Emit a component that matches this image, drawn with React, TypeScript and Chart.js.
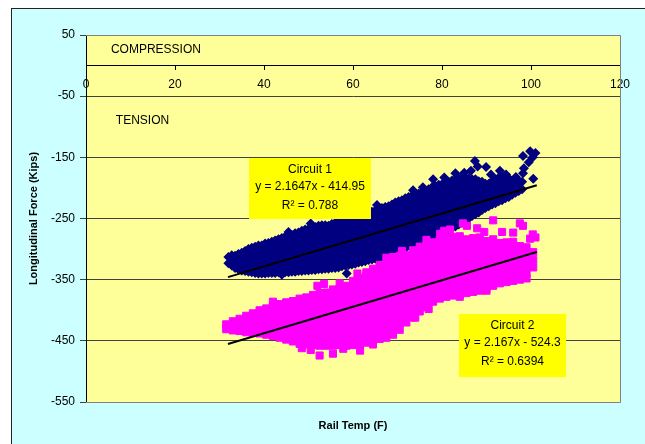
import React, { useEffect, useRef } from "react";
import { Chart, registerables } from "chart.js";

Chart.register(...registerables);

// ---------- data ----------
const xTicks = [0, 20, 40, 60, 80, 100, 120];
const yTicks = [-550, -450, -350, -250, -150, -50, 50];

// Circuit 1 readings grouped by rail temperature column: [temp, forces[]]
const circuit1Columns: [number, number[]][] = [
  [32, [-323, -313]],
  [32.75, [-327, -318, -310]],
  [33.5, [-331, -321, -311]],
  [34.25, [-333, -326, -316, -308]],
  [35, [-335, -326, -316, -306]],
  [35.75, [-336, -330, -321, -311, -303]],
  [36.5, [-337, -329, -319, -309, -300]],
  [37.25, [-338, -332, -324, -314, -304, -298]],
  [38, [-339, -331, -321, -311, -302, -296]],
  [38.75, [-340, -334, -326, -316, -306, -297, -294]],
  [39.5, [-340, -333, -324, -314, -304, -294]],
  [40.25, [-340, -335, -328, -319, -309, -299, -291]],
  [41, [-339, -330, -320, -310, -300, -290]],
  [41.75, [-339, -334, -325, -315, -305, -295, -288]],
  [42.5, [-339, -332, -322, -312, -302, -293, -286]],
  [43.25, [-338, -327, -317, -307, -297, -288, -284]],
  [44, [-338, -329, -319, -309, -299, -290, -282]],
  [44.75, [-338, -334, -324, -314, -304, -294, -285, -280]],
  [45.5, [-338, -330, -320, -310, -300, -290, -280]],
  [46.25, [-337, -325, -315, -305, -295, -285, -277]],
  [47, [-337, -327, -317, -307, -297, -287, -278, -274]],
  [47.75, [-336, -332, -322, -312, -302, -292, -282, -273]],
  [48.5, [-336, -329, -319, -309, -299, -289, -279, -270]],
  [49.25, [-335, -324, -314, -304, -294, -284, -274, -268]],
  [50, [-335, -326, -316, -306, -296, -286, -276, -267]],
  [50.75, [-334, -330, -321, -311, -301, -291, -281, -271, -265]],
  [51.5, [-334, -324, -314, -304, -294, -284, -274, -264]],
  [52.25, [-333, -329, -319, -309, -299, -289, -279, -269, -262]],
  [53, [-333, -325, -315, -305, -295, -285, -275, -266, -261]],
  [53.75, [-332, -320, -310, -300, -290, -280, -270, -261]],
  [54.5, [-332, -322, -312, -302, -292, -282, -272, -262]],
  [55.25, [-331, -327, -317, -307, -297, -287, -277, -267, -259]],
  [56, [-331, -324, -314, -304, -294, -284, -274, -265, -257]],
  [56.75, [-330, -319, -309, -299, -289, -279, -269, -260, -256]],
  [57.5, [-328, -320, -310, -300, -290, -280, -270, -260, -255]],
  [58.25, [-327, -315, -305, -295, -285, -275, -265, -256, -253]],
  [59, [-326, -317, -307, -297, -287, -277, -267, -258, -252]],
  [59.75, [-325, -321, -312, -302, -292, -282, -272, -262, -253, -250]],
  [60.5, [-324, -315, -305, -295, -285, -275, -265, -255, -249]],
  [61.25, [-322, -310, -300, -290, -280, -270, -260, -250, -247]],
  [62, [-321, -311, -301, -291, -281, -271, -261, -252, -245]],
  [62.75, [-320, -316, -306, -296, -286, -276, -266, -256, -247, -243]],
  [63.5, [-318, -309, -299, -289, -279, -269, -259, -249, -241]],
  [64.25, [-317, -304, -294, -284, -274, -264, -254, -244, -239]],
  [65, [-316, -306, -296, -286, -276, -266, -256, -246, -237]],
  [65.75, [-314, -311, -301, -291, -281, -271, -261, -251, -241, -235]],
  [66.5, [-313, -303, -293, -283, -273, -263, -253, -243, -233]],
  [67.25, [-310, -298, -288, -278, -268, -258, -248, -238, -231]],
  [68, [-308, -300, -290, -280, -270, -260, -250, -240, -230]],
  [68.75, [-305, -295, -285, -275, -265, -255, -245, -235, -227]],
  [69.5, [-303, -294, -284, -274, -264, -254, -244, -234, -224]],
  [70.25, [-300, -289, -279, -269, -259, -249, -239, -229, -222]],
  [71, [-298, -290, -280, -270, -260, -250, -240, -230, -220]],
  [71.75, [-296, -285, -275, -265, -255, -245, -235, -225, -217]],
  [72.5, [-294, -285, -275, -265, -255, -245, -235, -225, -215]],
  [73.25, [-292, -280, -270, -260, -250, -240, -230, -220, -213]],
  [74, [-290, -281, -271, -261, -251, -241, -231, -221, -211]],
  [74.75, [-288, -276, -266, -256, -246, -236, -226, -216, -209]],
  [75.5, [-286, -277, -267, -257, -247, -237, -227, -217, -207]],
  [76.25, [-283, -272, -262, -252, -242, -232, -222, -212, -204]],
  [77, [-281, -272, -262, -252, -242, -232, -222, -212, -202]],
  [77.75, [-278, -267, -257, -247, -237, -227, -217, -207, -199]],
  [78.5, [-276, -267, -257, -247, -237, -227, -217, -207, -197]],
  [79.25, [-274, -262, -252, -242, -232, -222, -212, -202, -195]],
  [80, [-272, -263, -253, -243, -233, -223, -213, -203, -194]],
  [80.75, [-270, -258, -248, -238, -228, -218, -208, -198, -192]],
  [81.5, [-268, -259, -249, -239, -229, -219, -209, -199, -190]],
  [82.25, [-265, -254, -244, -234, -224, -214, -204, -194, -188]],
  [83, [-263, -254, -244, -234, -224, -214, -204, -194, -186]],
  [83.75, [-260, -249, -239, -229, -219, -209, -199, -189, -184]],
  [84.5, [-257, -248, -238, -228, -218, -208, -198, -189, -182]],
  [85.25, [-253, -243, -233, -223, -213, -203, -193, -184]],
  [86, [-250, -241, -231, -221, -211, -201, -191, -184]],
  [86.75, [-246, -236, -226, -216, -206, -196, -186]],
  [87.5, [-243, -234, -224, -214, -204, -194, -186]],
  [88.25, [-240, -229, -219, -209, -199, -189]],
  [89, [-236, -228, -218, -208, -198, -190]],
  [89.75, [-233, -223, -213, -203, -193]],
  [90.5, [-230, -222, -212, -202, -193]],
  [91.25, [-227, -217, -207, -197, -189]],
  [92, [-225, -215, -205, -196, -186]],
  [92.75, [-222, -210, -200, -191, -183]],
  [93.5, [-220, -211, -201, -191, -182]],
  [94.25, [-217, -206, -196, -186, -180]],
  [95, [-215, -205, -195, -184]],
  [95.75, [-211, -200, -190]],
  [96.5, [-208, -198, -186]],
  [97.25, [-205, -193]],
  [98, [-202, -190]],
];

// Circuit 1 scattered readings: [temp, force]
const circuit1Scatter: [number, number][] = [
  [87.4, -156], [89.9, -166], [86.5, -172], [91, -178], [94.4, -178], [96.6, -182],
  [97.5, -190], [95.3, -200], [98.2, -176], [98.4, -168], [98.2, -148], [99.8, -140],
  [101, -143], [100.4, -150], [99.5, -158], [100.5, -185], [93, -172], [83, -176],
  [80.5, -183], [78, -186], [75.7, -199], [73.5, -204], [65.4, -228], [62, -238],
  [59, -245], [50.5, -258], [45.5, -272], [72, -297], [74.4, -291], [76, -287],
  [58.6, -340], [44, -342], [88, -165], [85, -175],
];

// Circuit 2 readings grouped by rail temperature column: [temp, forces[]]
const circuit2Columns: [number, number[]][] = [
  [31.5, [-431, -423]],
  [33, [-433, -424, -418]],
  [34.5, [-434, -424, -414]],
  [36, [-436, -426, -416, -409]],
  [37.5, [-437, -427, -416, -405]],
  [39, [-438, -427, -416, -405, -400]],
  [40.5, [-440, -429, -418, -407, -397]],
  [42, [-442, -431, -420, -409, -398, -393]],
  [43.5, [-445, -434, -423, -412, -401, -390]],
  [45, [-448, -437, -426, -415, -404, -393, -387]],
  [46.5, [-451, -440, -429, -418, -407, -396, -385]],
  [48, [-455, -444, -433, -422, -411, -400, -389, -381]],
  [49.5, [-456, -445, -434, -423, -412, -401, -390, -379]],
  [51, [-457, -446, -435, -424, -413, -402, -391, -380, -375]],
  [52.5, [-458, -447, -436, -425, -414, -403, -392, -381, -372]],
  [54, [-458, -448, -437, -426, -415, -404, -393, -382, -371]],
  [55.5, [-458, -447, -436, -425, -414, -403, -392, -381, -370, -366]],
  [57, [-457, -446, -435, -424, -413, -402, -391, -380, -369, -364]],
  [58.5, [-458, -447, -436, -425, -414, -403, -392, -381, -370, -360]],
  [60, [-457, -446, -435, -424, -413, -402, -391, -380, -369, -358, -352]],
  [61.5, [-456, -445, -434, -423, -412, -401, -390, -379, -368, -357, -347]],
  [63, [-453, -442, -431, -420, -409, -398, -387, -376, -365, -354, -343, -338]],
  [64.5, [-450, -439, -428, -417, -406, -395, -384, -373, -362, -351, -340, -332]],
  [66, [-447, -436, -425, -414, -403, -392, -381, -370, -359, -348, -337, -326]],
  [67.5, [-445, -434, -423, -412, -401, -390, -379, -368, -357, -346, -335, -324]],
  [69, [-440, -429, -418, -407, -396, -385, -374, -363, -352, -341, -330, -319, -313]],
  [70.5, [-432, -421, -410, -399, -388, -377, -366, -355, -344, -333, -322, -311]],
  [72, [-420, -409, -398, -387, -376, -365, -354, -343, -332, -321, -310]],
  [73.5, [-412, -401, -390, -379, -368, -357, -346, -335, -324, -313, -302]],
  [75, [-402, -391, -380, -369, -358, -347, -336, -325, -314, -303, -296]],
  [76.5, [-395, -384, -373, -362, -351, -340, -329, -318, -307, -296]],
  [78, [-386, -375, -364, -353, -342, -331, -320, -309, -298, -289]],
  [79.5, [-381, -370, -359, -348, -337, -326, -315, -304, -293, -285]],
  [81, [-378, -367, -356, -345, -334, -323, -312, -301, -290, -282]],
  [82.5, [-376, -365, -354, -343, -332, -321, -310, -299, -288, -280]],
  [84, [-374, -363, -352, -341, -330, -319, -308, -297, -286, -279]],
  [85.5, [-372, -361, -350, -339, -328, -317, -306, -295, -284]],
  [87, [-370, -359, -348, -337, -326, -315, -304, -293, -282]],
  [88.5, [-368, -357, -346, -335, -324, -313, -302, -291, -281]],
  [90, [-364, -353, -342, -331, -320, -309, -298, -287]],
  [91.5, [-360, -349, -338, -327, -316, -305, -294, -284]],
  [93, [-356, -345, -334, -323, -312, -301, -290]],
  [94.5, [-354, -343, -332, -321, -310, -299, -289]],
  [96, [-352, -341, -330, -319, -308, -297, -288]],
  [97.5, [-350, -339, -328, -317, -306, -295]],
  [99, [-340, -329, -318, -307, -297]],
  [100.5, [-330, -318, -305]],
];

// Circuit 2 scattered readings: [temp, force]
const circuit2Scatter: [number, number][] = [
  [52, -360], [53.5, -357], [61, -340], [57, -356], [42, -386], [79.6, -275],
  [80.5, -270], [81.8, -268], [84.7, -258], [85.6, -262], [87.9, -266], [91.5, -253],
  [93.5, -272], [96, -273], [97.5, -258], [98.2, -262], [100.4, -276], [101, -281],
  [99.8, -283], [89.5, -272], [76.5, -285], [71, -303], [67.5, -314],
  [52.5, -474], [55.5, -471], [57.8, -463], [61.6, -466], [48.5, -462], [50.5, -465],
  [64.5, -456], [97.5, -345], [99, -348], [84, -378], [90, -368], [74, -412], [77, -398],
];

const circuit1Fit = { name: "Circuit 1", slope: 2.1647, intercept: -414.95, r2: 0.788 };
const circuit2Fit = { name: "Circuit 2", slope: 2.167, intercept: -524.3, r2: 0.6394 };
const fitRange = [31.9, 101.3];

const regionLabels = ["COMPRESSION", "TENSION"];
const xTitle = "Rail Temp (F)";
const yTitle = "Longitudinal Force (Kips)";

// ---------- helpers ----------
const FONT = "'Liberation Sans', Arial, Helvetica, sans-serif";

function toPoints(cols: [number, number[]][], extra: [number, number][]) {
  const pts: { x: number; y: number }[] = [];
  cols.forEach(([x, ys]) => ys.forEach((y) => pts.push({ x, y })));
  extra.forEach(([x, y]) => pts.push({ x, y }));
  return pts;
}

function fitLine(fit: { slope: number; intercept: number }) {
  return fitRange.map((x) => ({ x, y: fit.slope * x + fit.intercept }));
}

function fitText(fit: { name: string; slope: number; intercept: number; r2: number }) {
  const sign = fit.intercept < 0 ? "-" : "+";
  return [fit.name, `y = ${fit.slope}x ${sign} ${Math.abs(fit.intercept)}`, `R\u00B2 = ${fit.r2}`];
}

const decorPlugin = {
  id: "decor",
  beforeDraw(chart: any) {
    const { ctx, chartArea: a } = chart;
    ctx.save();
    ctx.fillStyle = "#FFFF99";
    ctx.fillRect(a.left, a.top, a.right - a.left, a.bottom - a.top);
    ctx.restore();
  },
  afterDatasetsDraw(chart: any) {
    const { ctx, chartArea: a, scales } = chart;
    const sx = scales.x;
    const sy = scales.y;
    ctx.save();
    // plot border
    ctx.strokeStyle = "#808080";
    ctx.lineWidth = 1;
    ctx.beginPath();
    ctx.moveTo(Math.round(a.left), Math.round(a.top) + 0.5);
    ctx.lineTo(Math.round(a.right) + 0.5, Math.round(a.top) + 0.5);
    ctx.lineTo(Math.round(a.right) + 0.5, Math.round(a.bottom) + 0.5);
    ctx.lineTo(Math.round(a.left), Math.round(a.bottom) + 0.5);
    ctx.stroke();

    // region labels
    ctx.fillStyle = "#000";
    ctx.font = `12px ${FONT}`;
    ctx.textBaseline = "middle";
    ctx.textAlign = "left";
    ctx.fillText(regionLabels[0], sx.getPixelForValue(5.6), sy.getPixelForValue(25.9));
    ctx.fillText(regionLabels[1], sx.getPixelForValue(6.7), sy.getPixelForValue(-90.9));

    // regression label boxes
    const boxes = [
      { fit: circuit1Fit, x0: 36.6, x1: 64, y0: -151.4, y1: -251.3 },
      { fit: circuit2Fit, x0: 83.8, x1: 107.9, y0: -406.8, y1: -508.4 },
    ];
    boxes.forEach((b) => {
      const left = Math.round(sx.getPixelForValue(b.x0));
      const right = Math.round(sx.getPixelForValue(b.x1));
      const top = Math.round(sy.getPixelForValue(b.y0));
      const bottom = Math.round(sy.getPixelForValue(b.y1));
      ctx.fillStyle = "#FFFF00";
      ctx.fillRect(left, top, right - left, bottom - top);
      ctx.fillStyle = "#000";
      ctx.textAlign = "center";
      const cx = (left + right) / 2;
      const lines = fitText(b.fit);
      const offs = [12, 29, 48];
      lines.forEach((t, i) => ctx.fillText(t, cx, top + offs[i]));
    });

    // axis titles
    ctx.font = `bold 11px ${FONT}`;
    ctx.textAlign = "center";
    ctx.fillText(xTitle, (a.left + a.right) / 2, a.bottom + 24);
    ctx.translate(34, (a.top + a.bottom) / 2);
    ctx.rotate(-Math.PI / 2);
    ctx.fillText(yTitle, 0, 0);
    ctx.restore();
  },
};

export default function App() {
  const ref = useRef<HTMLCanvasElement>(null);

  useEffect(() => {
    if (!ref.current) return;
    const chart = new Chart(ref.current, {
      type: "scatter",
      data: {
        datasets: [
          {
            label: "Circuit 1 fit",
            data: fitLine(circuit1Fit),
            showLine: true,
            borderColor: "#000",
            borderWidth: 2,
            pointRadius: 0,
            order: 0,
          },
          {
            label: "Circuit 2 fit",
            data: fitLine(circuit2Fit),
            showLine: true,
            borderColor: "#000",
            borderWidth: 2,
            pointRadius: 0,
            order: 0,
          },
          {
            label: "Circuit 2",
            data: toPoints(circuit2Columns, circuit2Scatter),
            pointStyle: "rect",
            pointRadius: 5,
            backgroundColor: "#FF00FF",
            borderColor: "#FF00FF",
            borderWidth: 1,
            order: 1,
          },
          {
            label: "Circuit 1",
            data: toPoints(circuit1Columns, circuit1Scatter),
            pointStyle: "rectRot",
            pointRadius: 5,
            backgroundColor: "#000080",
            borderColor: "#000080",
            borderWidth: 0,
            order: 2,
          },
        ] as any,
      },
      plugins: [decorPlugin],
      options: {
        responsive: false,
        animation: false,
        events: [],
        layout: { padding: { left: 0, top: 35, right: 25, bottom: 42 } },
        plugins: { legend: { display: false }, tooltip: { enabled: false } },
        scales: {
          x: {
            type: "linear",
            position: { y: 0 } as any,
            min: xTicks[0],
            max: xTicks[xTicks.length - 1],
            ticks: {
              stepSize: xTicks[1] - xTicks[0],
              color: "#000",
              font: { family: FONT, size: 12 },
              padding: 8,
              maxRotation: 0,
              autoSkip: false,
            },
            grid: { drawOnChartArea: false, drawTicks: true, tickLength: 4, color: "#000" },
            border: { display: true, color: "#000", width: 1 },
          },
          y: {
            type: "linear",
            position: "left",
            min: yTicks[0],
            max: yTicks[yTicks.length - 1],
            afterFit: (scale: any) => {
              scale.width = 86;
            },
            ticks: {
              stepSize: yTicks[1] - yTicks[0],
              color: "#000",
              font: { family: FONT, size: 12 },
              padding: 5,
            },
            grid: { color: "#404040", drawTicks: true, tickLength: 6, lineWidth: 1 },
            border: { display: true, color: "#000", width: 1 },
          },
        },
      } as any,
    });
    return () => chart.destroy();
  }, []);

  return (
    <div
      style={{
        position: "fixed",
        left: 0,
        top: 0,
        width: 645,
        height: 444,
        overflow: "hidden",
        background: "#fff",
      }}
    >
      <div
        style={{
          position: "absolute",
          left: 11,
          top: 8,
          width: 700,
          height: 500,
          border: "1px solid #222",
          background: "#CCFFFF",
        }}
      />
      <canvas ref={ref} width={645} height={444} style={{ position: "absolute", left: 0, top: 0 }} />
    </div>
  );
}
